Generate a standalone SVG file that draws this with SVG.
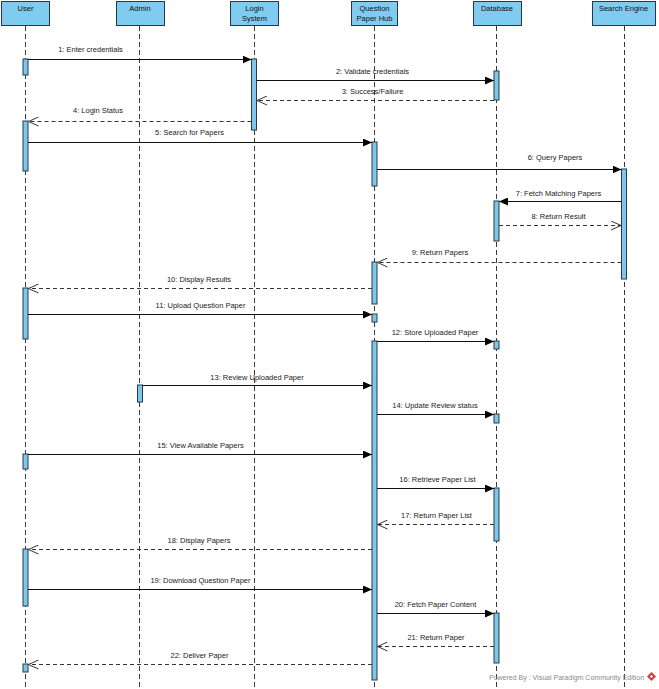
<svg xmlns="http://www.w3.org/2000/svg" width="659" height="689" viewBox="0 0 659 689">
<style>
.hdr{fill:#80CCF0;stroke:#243a48;stroke-width:1}
.ht{font-family:"Liberation Sans",Arial,sans-serif;font-size:7.5px;fill:#111;text-anchor:middle}
.life{stroke:#3a3a3a;stroke-width:1;stroke-dasharray:5,3;fill:none}
.bar{fill:#80C6E8;stroke:#243a48;stroke-width:1}
.msg{stroke:#111;stroke-width:1;fill:none}
.ret{stroke:#333;stroke-width:1;stroke-dasharray:4,3;fill:none}
.lbl{font-family:"Liberation Sans",Arial,sans-serif;font-size:7.5px;fill:#222;text-anchor:middle}
.foot{font-family:"Liberation Sans",Arial,sans-serif;font-size:7px;fill:#8a8a8a}
</style>
<defs>
<marker id="fill" markerWidth="10" markerHeight="8" refX="9" refY="4" orient="auto" markerUnits="userSpaceOnUse">
<path d="M0,0 L9,4 L0,8 Z" fill="#000"/>
</marker>
<marker id="open" markerWidth="12" markerHeight="10" refX="10" refY="5" orient="auto" markerUnits="userSpaceOnUse">
<path d="M0,0.5 L10,5 L0,9.5" fill="none" stroke="#333" stroke-width="1"/>
</marker>
</defs>

<g id="lifelines">
<line class="life" x1="25.5" y1="26" x2="25.5" y2="689"/>
<line class="life" x1="139.5" y1="26" x2="139.5" y2="689"/>
<line class="life" x1="254.5" y1="26" x2="254.5" y2="689"/>
<line class="life" x1="374.5" y1="26" x2="374.5" y2="689"/>
<line class="life" x1="496.5" y1="26" x2="496.5" y2="689"/>
<line class="life" x1="624.5" y1="26" x2="624.5" y2="689"/>
</g>

<g id="user">
<rect class="hdr" x="1.5" y="1.5" width="48" height="24"/>
<text class="ht" x="25.5" y="10.5">User</text>
</g>
<g id="admin">
<rect class="hdr" x="116.5" y="1.5" width="48" height="24"/>
<text class="ht" x="140" y="10.5">Admin</text>
</g>
<g id="login-system">
<rect class="hdr" x="230.5" y="1.5" width="48" height="24"/>
<text class="ht" x="254.5" y="10.5">Login</text>
<text class="ht" x="254.5" y="20.5">System</text>
</g>
<g id="question-paper-hub">
<rect class="hdr" x="351.5" y="1.5" width="46" height="24"/>
<text class="ht" x="374.5" y="10.5">Question</text>
<text class="ht" x="374.5" y="20.5">Paper Hub</text>
</g>
<g id="database">
<rect class="hdr" x="473.5" y="1.5" width="48" height="24"/>
<text class="ht" x="497" y="10.5">Database</text>
</g>
<g id="search-engine">
<rect class="hdr" x="592.5" y="1.5" width="63" height="24"/>
<text class="ht" x="623.5" y="10.5">Search Engine</text>
</g>

<g id="activations">
<rect class="bar" x="23" y="59" width="5" height="16"/>
<rect class="bar" x="23" y="121" width="5" height="50"/>
<rect class="bar" x="23" y="288" width="5" height="51"/>
<rect class="bar" x="23" y="454" width="5" height="15"/>
<rect class="bar" x="23" y="549" width="5" height="57"/>
<rect class="bar" x="23" y="664" width="5" height="8"/>
<rect class="bar" x="137.5" y="385" width="5" height="17"/>
<rect class="bar" x="251.5" y="59" width="5" height="71"/>
<rect class="bar" x="372" y="142" width="5" height="44"/>
<rect class="bar" x="372" y="262" width="5" height="42"/>
<rect class="bar" x="372" y="314" width="5" height="8"/>
<rect class="bar" x="372" y="341" width="5" height="339"/>
<rect class="bar" x="494" y="71" width="5" height="29"/>
<rect class="bar" x="494" y="201" width="5" height="40"/>
<rect class="bar" x="494" y="341" width="5" height="8"/>
<rect class="bar" x="494" y="414" width="5" height="9"/>
<rect class="bar" x="494" y="488" width="5" height="53"/>
<rect class="bar" x="494" y="613" width="5" height="50"/>
<rect class="bar" x="621.5" y="169" width="5" height="110"/>
</g>

<g id="connectors">
<line class="msg" x1="28" y1="59.5" x2="251.5" y2="59.5" marker-end="url(#fill)"/>
<line class="msg" x1="256.5" y1="80.5" x2="494" y2="80.5" marker-end="url(#fill)"/>
<line class="ret" x1="494" y1="100.5" x2="257" y2="100.5" marker-end="url(#open)"/>
<line class="ret" x1="251.5" y1="121.5" x2="28.5" y2="121.5" marker-end="url(#open)"/>
<line class="msg" x1="28" y1="142.5" x2="372" y2="142.5" marker-end="url(#fill)"/>
<line class="msg" x1="377" y1="169.5" x2="621.5" y2="169.5" marker-end="url(#fill)"/>
<line class="msg" x1="621.5" y1="201.5" x2="499" y2="201.5" marker-end="url(#fill)"/>
<line class="ret" x1="499" y1="225.5" x2="621" y2="225.5" marker-end="url(#open)"/>
<line class="ret" x1="621.5" y1="262.5" x2="377.5" y2="262.5" marker-end="url(#open)"/>
<line class="ret" x1="372" y1="288.5" x2="28.5" y2="288.5" marker-end="url(#open)"/>
<line class="msg" x1="28" y1="314.5" x2="372" y2="314.5" marker-end="url(#fill)"/>
<line class="msg" x1="377" y1="341.5" x2="494" y2="341.5" marker-end="url(#fill)"/>
<line class="msg" x1="142.5" y1="385.5" x2="372" y2="385.5" marker-end="url(#fill)"/>
<line class="msg" x1="377" y1="414.5" x2="494" y2="414.5" marker-end="url(#fill)"/>
<line class="msg" x1="28" y1="454.5" x2="372" y2="454.5" marker-end="url(#fill)"/>
<line class="msg" x1="377" y1="488.5" x2="494" y2="488.5" marker-end="url(#fill)"/>
<line class="ret" x1="494" y1="524.5" x2="377.5" y2="524.5" marker-end="url(#open)"/>
<line class="ret" x1="372" y1="549.5" x2="28.5" y2="549.5" marker-end="url(#open)"/>
<line class="msg" x1="28" y1="589.5" x2="372" y2="589.5" marker-end="url(#fill)"/>
<line class="msg" x1="377" y1="613.5" x2="494" y2="613.5" marker-end="url(#fill)"/>
<line class="ret" x1="494" y1="646.5" x2="377.5" y2="646.5" marker-end="url(#open)"/>
<line class="ret" x1="372" y1="664.5" x2="28.5" y2="664.5" marker-end="url(#open)"/>

<text class="lbl" x="90.5" y="52">1: Enter credentials</text>
<text class="lbl" x="372.5" y="73.5">2: Validate credentials</text>
<text class="lbl" x="372.5" y="94">3: Success/Failure</text>
<text class="lbl" x="98" y="113">4: Login Status</text>
<text class="lbl" x="189.5" y="135">5: Search for Papers</text>
<text class="lbl" x="555" y="159.5">6: Query Papers</text>
<text class="lbl" x="558.5" y="195.5">7: Fetch Matching Papers</text>
<text class="lbl" x="558.5" y="219">8: Return Result</text>
<text class="lbl" x="440" y="254.5">9: Return Papers</text>
<text class="lbl" x="199" y="281.5">10: Display Results</text>
<text class="lbl" x="200.5" y="307.5">11: Upload Question Paper</text>
<text class="lbl" x="435" y="334.5">12: Store Uploaded Paper</text>
<text class="lbl" x="257" y="379.5">13: Review Uploaded Paper</text>
<text class="lbl" x="435" y="408">14: Update Review status</text>
<text class="lbl" x="200.5" y="447.5">15: View Available Papers</text>
<text class="lbl" x="437.5" y="482">16: Retrieve Paper List</text>
<text class="lbl" x="436.5" y="518">17: Return Paper List</text>
<text class="lbl" x="199" y="543">18: Display Papers</text>
<text class="lbl" x="200.5" y="582.5">19: Download Question Paper</text>
<text class="lbl" x="435.5" y="607">20: Fetch Paper Content</text>
<text class="lbl" x="436" y="640">21: Return Paper</text>
<text class="lbl" x="199.5" y="658">22: Deliver Paper</text>
</g>

<text class="foot" x="489" y="680">Powered By : Visual Paradigm Community Edition</text>
<path d="M651.5,672 L656,676.5 L651.5,681 L647,676.5 Z" fill="#d23a3a"/>
<circle cx="651.5" cy="676.5" r="1.3" fill="#fff"/>
</svg>
